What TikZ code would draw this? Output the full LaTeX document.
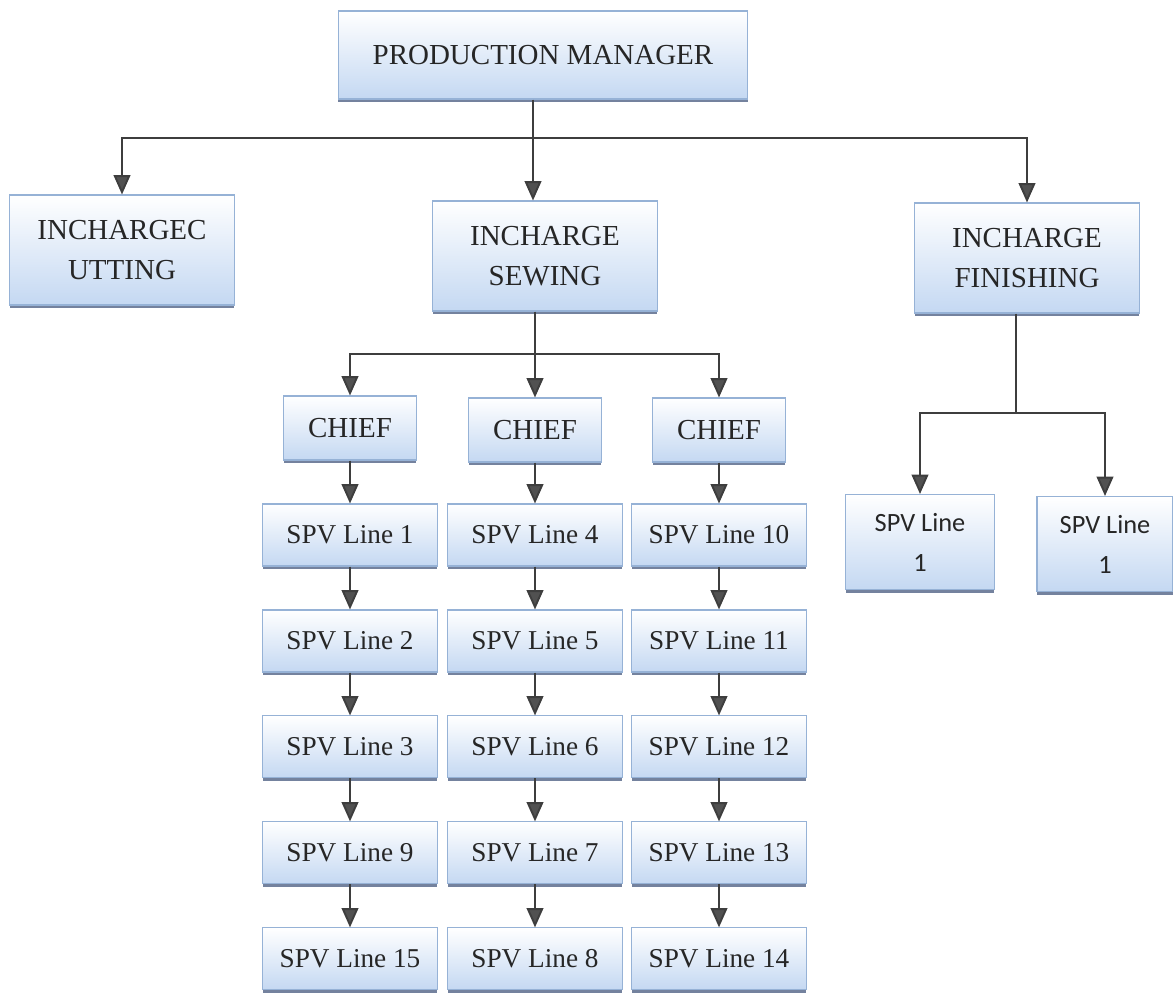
\documentclass[tikz,border=0pt]{standalone}
\usepackage{fontspec}
\setmainfont{Liberation Serif}
\newfontfamily\timesfont{Liberation Serif}
\newfontfamily\calibri{Carlito}
\usetikzlibrary{arrows.meta,positioning,shadows}

\definecolor{boxfill}{RGB}{196,216,242}
\definecolor{boxline}{RGB}{150,178,214}
\definecolor{boxshadow}{RGB}{70,88,125}
\definecolor{linkgray}{RGB}{62,62,62}

\begin{document}
\begin{tikzpicture}[x=0.02cm,y=-0.02cm,node distance=2.12cm]

\tikzstyle{orgbox}=[draw=boxline,line width=0.6pt,top color=white,bottom color=boxfill,
  drop shadow={shadow xshift=0pt,shadow yshift=-1.8pt,fill=boxshadow,opacity=0.75},
  align=center,inner sep=2pt,text=black!85,font=\timesfont\fontsize{16.5}{23}\selectfont]
\tikzstyle{headbox}=[orgbox,minimum width=4.5cm,minimum height=2.2cm]
\tikzstyle{chiefbox}=[orgbox,minimum width=2.66cm,minimum height=1.28cm]
\tikzstyle{linebox}=[orgbox,minimum width=3.5cm,minimum height=1.24cm,font=\timesfont\fontsize{15.5}{20}\selectfont]
\tikzstyle{finbox}=[orgbox,minimum height=1.9cm,font=\calibri\fontsize{15}{22.8}\selectfont]
\tikzstyle{link}=[draw=linkgray,line width=1.1pt]
\tikzstyle{arr}=[link,-{Triangle[width=9.5pt,length=11pt,fill=linkgray!90]}]

\useasboundingbox (0,0) rectangle (1173,996);

%top
\node[orgbox,minimum width=8.2cm,minimum height=1.76cm] (pm) at (543,55) {PRODUCTION MANAGER};

%incharges
\node[headbox] (cut) at (122,250) {INCHARGEC\\UTTING};
\node[headbox] (sew) at (545,256) {INCHARGE\\SEWING};
\node[headbox] (fin) at (1027,258) {INCHARGE\\FINISHING};

%chiefs under sewing
\node[chiefbox] (c1) at (350,428) {CHIEF};
\node[chiefbox] (c2) at (535,430) {CHIEF};
\node[chiefbox] (c3) at (719,430) {CHIEF};

%first column
\node[linebox] (l1) at (350,535) {SPV Line 1};
\node[linebox] (l2) [below of=l1] {SPV Line 2};
\node[linebox] (l3) [below of=l2] {SPV Line 3};
\node[linebox] (l9) [below of=l3] {SPV Line 9};
\node[linebox] (l15) [below of=l9] {SPV Line 15};

%second column
\node[linebox] (l4) at (535,535) {SPV Line 4};
\node[linebox] (l5) [below of=l4] {SPV Line 5};
\node[linebox] (l6) [below of=l5] {SPV Line 6};
\node[linebox] (l7) [below of=l6] {SPV Line 7};
\node[linebox] (l8) [below of=l7] {SPV Line 8};

%third column
\node[linebox] (l10) at (719,535) {SPV Line 10};
\node[linebox] (l11) [below of=l10] {SPV Line 11};
\node[linebox] (l12) [below of=l11] {SPV Line 12};
\node[linebox] (l13) [below of=l12] {SPV Line 13};
\node[linebox] (l14) [below of=l13] {SPV Line 14};

%finishing lines
\node[finbox,minimum width=2.98cm] (f1) at (920,542) {SPV Line\\1};
\node[finbox,minimum width=2.72cm] (f2) at (1105,544) {SPV Line\\1};

%manager to incharges
\coordinate (pmbus) at (533,138);
\path[link] (pm.south -| pmbus) -- (pmbus);
\path[arr] (pmbus) -| (cut.north);
\path[arr] (pmbus) -- (pmbus |- sew.north);
\path[arr] (pmbus) -| (fin.north);

%sewing to chiefs
\coordinate (sewbus) at (535,354);
\path[link] (sew.south -| sewbus) -- (sewbus);
\path[arr] (sewbus) -| (c1.north);
\path[arr] (sewbus) -- (c2.north);
\path[arr] (sewbus) -| (c3.north);

%finishing to lines
\coordinate (finbus) at (1016,413);
\path[link] (fin.south -| finbus) -- (finbus);
\path[arr] (finbus) -| (f1.north);
\path[arr] (finbus) -| (f2.north);

%chains
\path (c1) edge[arr] (l1)
      (l1) edge[arr] (l2)
      (l2) edge[arr] (l3)
      (l3) edge[arr] (l9)
      (l9) edge[arr] (l15)
      (c2) edge[arr] (l4)
      (l4) edge[arr] (l5)
      (l5) edge[arr] (l6)
      (l6) edge[arr] (l7)
      (l7) edge[arr] (l8)
      (c3) edge[arr] (l10)
      (l10) edge[arr] (l11)
      (l11) edge[arr] (l12)
      (l12) edge[arr] (l13)
      (l13) edge[arr] (l14);

\end{tikzpicture}
\end{document}
